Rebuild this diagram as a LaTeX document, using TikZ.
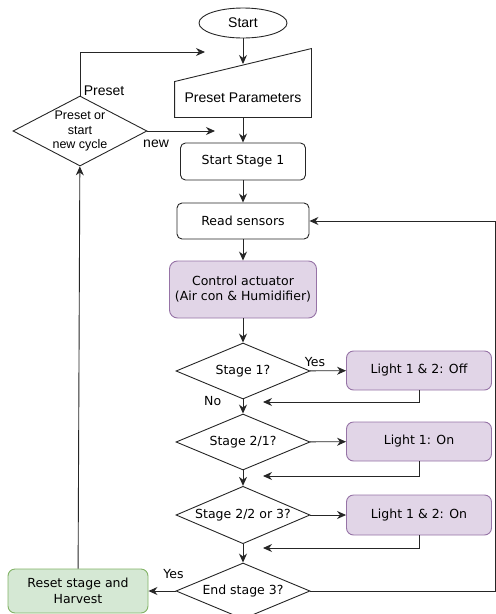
\documentclass[tikz,border=0pt]{standalone}
\usepackage{fontspec}
\newfontfamily\verdf{DejaVu Sans}
\newfontfamily\arialf{Liberation Sans}
\usepackage{tikz}
\usetikzlibrary{shapes.geometric,arrows.meta}
\definecolor{lilafill}{HTML}{E1D5E7}
\definecolor{liladraw}{HTML}{9673A6}
\definecolor{gruenfill}{HTML}{D5E8D4}
\definecolor{gruendraw}{HTML}{82B366}
\definecolor{strich}{HTML}{262626}

\begin{document}
\begin{tikzpicture}[x=1pt,y=-1pt, line width=0.9pt, draw=strich, >={Stealth[length=9pt,width=8pt]},
    stepbox/.style={draw, rounded corners=5pt, inner sep=0pt, align=center, font=\verdf\fontsize{12.5}{15}\selectfont},
    actbox/.style={stepbox, rounded corners=7pt, fill=lilafill, draw=liladraw, minimum width=145pt, minimum height=39pt},
    decision/.style={draw, diamond, inner sep=0pt, inner xsep=-25pt, align=center, minimum width=134pt, minimum height=56pt, font=\verdf\fontsize{12.5}{15}\selectfont},
    topfont/.style={font=\arialf\fontsize{14}{16}\selectfont}]
    \useasboundingbox (0,0) rectangle (496,614);
    % main column
    \node[draw, ellipse, inner sep=0pt, minimum width=88pt, minimum height=30pt, topfont] (start) at (243,23) {Start};
    \node[inner sep=0pt, minimum width=136pt, minimum height=39pt, topfont] (pp) at (243,97.5) {Preset Parameters};
    \draw (pp.south west) -- (pp.south east) -- ([yshift=29pt]pp.north east) -- ([yshift=-4pt]pp.north west) -- cycle;
    \coordinate (ppin) at (243,64);
    \node[stepbox, minimum width=125pt, minimum height=37pt] (s1) at (243,161.5) {Start Stage 1};
    \node[stepbox, minimum width=132pt, minimum height=36pt] (rs) at (243,221) {Read sensors};
    \node[stepbox, rounded corners=8pt, fill=lilafill, draw=liladraw, minimum width=147pt, minimum height=57pt] (ca) at (243,289.5) {Control actuator\\(Air con \& Humidifier)};
    \node[decision] (d1) at (243,371) {Stage 1?};
    \node[decision] (d2) at (243,442) {Stage 2/1?};
    \node[decision] (d3) at (243,515) {Stage 2/2 or 3?};
    \node[decision] (d4) at (243,591) {End stage 3?};
    % lights
    \node[actbox] (l1) at (419,370.5) {Light 1 \& 2: Off};
    \node[actbox] (l2) at (419,441.5) {Light 1: On};
    \node[actbox, minimum height=40pt] (l3) at (419,515) {Light 1 \& 2: On};
    \coordinate (m1) at (263,402);
    \coordinate (m2) at (263,476);
    \coordinate (m3) at (263,548);
    % left side
    \node[stepbox, rounded corners=7pt, fill=gruenfill, draw=gruendraw, minimum width=140pt, minimum height=44pt, font=\verdf\fontsize{12.5}{16.5}\selectfont] (rh) at (78,591) {Reset stage and\\Harvest};
    \node[decision, minimum height=70pt, font=\arialf\fontsize{12.5}{14.5}\selectfont] (pc) at (80,131) {Preset or\\start\\new cycle};
    \coordinate (pin) at (205,52);
    \coordinate (nin) at (215,131);
    \coordinate (rt) at (495.5,591);

    \draw[->] (start) -- (ppin);
    \draw[->] (pp.south) -- (s1);
    \draw[->] (s1) -- (rs);
    \draw[->] (rs) -- (ca);
    \draw[->] (ca) -- (d1);
    \draw[->] (d1) -- node[pos=0.14, above, font=\verdf\fontsize{12.5}{15}\selectfont] {Yes} (l1);
    \draw[->] (l1.south) |- (m1);
    \draw[->] (d1) -- node[pos=0.1, left=18pt, font=\verdf\fontsize{12.5}{15}\selectfont] {No} (d2);
    \draw[->] (d2) -- (l2);
    \draw[->] (l2.south) |- (m2);
    \draw[->] (d2) -- (d3);
    \draw[->] (d3) -- (l3);
    \draw[->] (l3.south) |- (m3);
    \draw[->] (d3) -- (d4);
    \draw[->] (d4) -- node[pos=0, above, yshift=9pt, xshift=-2pt, font=\verdf\fontsize{12.5}{15}\selectfont] {Yes} (rh);
    \draw[->] (d4.east) -- (rt) |- (rs.east);
    \draw[->] (rh) -- (pc);
    \draw[->] (pc.north) |- node[pos=0, above right, yshift=-4pt, topfont] {Preset} (pin);
    \draw[->] (pc.east) -- node[pos=0, below right, xshift=-8pt, yshift=-5pt, topfont] {new} (nin);
\end{tikzpicture}
\end{document}
